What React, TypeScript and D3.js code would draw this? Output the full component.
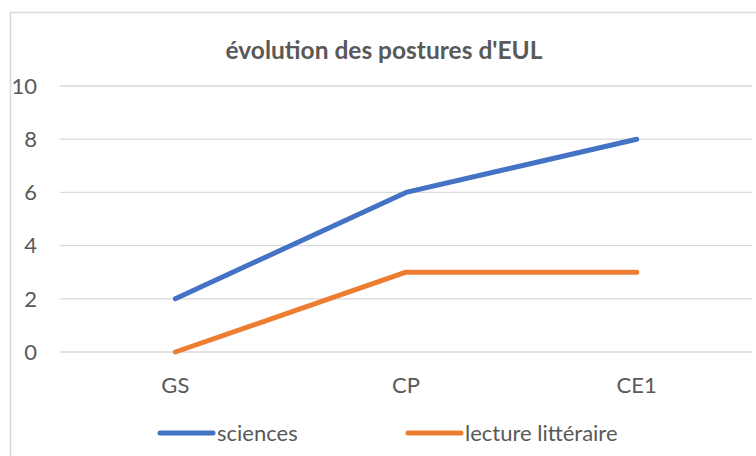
import * as d3 from "d3";
import { useEffect, useRef } from "react";

const categories = ["GS", "CP", "CE1"];
const sciences = [2, 6, 8];
const lecture = [0, 3, 3];
const yTicks = [0, 2, 4, 6, 8, 10];
const seriesNames = ["sciences", "lecture littéraire"];
const colors = ["#4472C4", "#ED7D31"];

const App = () => {
  const ref = useRef<SVGSVGElement | null>(null);

  useEffect(() => {
    const svg = d3.select(ref.current);
    svg.selectAll("*").remove();

    const width = 756,
      height = 456;
    const font = "Lato, 'Open Sans', sans-serif";
    const textColor = "#595959";

    // chart frame (only top and left edges visible in the crop)
    svg
      .append("path")
      .attr("d", `M10.5,${height} V12.5 H${width}`)
      .attr("fill", "none")
      .attr("stroke", "#d9d9d9")
      .attr("stroke-width", 1.5);

    svg
      .append("text")
      .attr("x", 384)
      .attr("y", 59)
      .attr("text-anchor", "middle")
      .attr("font-family", font)
      .attr("font-weight", "bold")
      .attr("font-size", 24.5)
      .attr("fill", textColor)
      .text("évolution des postures d'EUL");

    const x = d3.scaleBand().domain(categories).range([60, 752]);
    const y = d3.scaleLinear().domain([0, 10]).range([352, 86]);

    const grid = svg.append("g");
    grid
      .selectAll("line")
      .data(yTicks)
      .enter()
      .append("line")
      .attr("x1", 60)
      .attr("x2", 752)
      .attr("y1", (d) => y(d))
      .attr("y2", (d) => y(d))
      .attr("stroke", "#d9d9d9")
      .attr("stroke-width", 1.3);

    grid
      .selectAll("text")
      .data(yTicks)
      .enter()
      .append("text")
      .attr("x", 37)
      .attr("y", (d) => y(d))
      .attr("dy", "0.35em")
      .attr("text-anchor", "end")
      .attr("font-family", font)
      .attr("font-size", 22)
      .attr("fill", textColor)
      .text((d) => d);

    svg
      .append("g")
      .selectAll("text")
      .data(categories)
      .enter()
      .append("text")
      .attr("x", (d) => x(d)! + x.bandwidth() / 2)
      .attr("y", 393)
      .attr("text-anchor", "middle")
      .attr("font-family", font)
      .attr("font-size", 22)
      .attr("fill", textColor)
      .text((d) => d);

    const line = d3
      .line<number>()
      .x((_, i) => x(categories[i])! + x.bandwidth() / 2)
      .y((d) => y(d));

    [sciences, lecture].forEach((s, i) => {
      svg
        .append("path")
        .datum(s)
        .attr("d", line)
        .attr("fill", "none")
        .attr("stroke", colors[i])
        .attr("stroke-width", 5)
        .attr("stroke-linecap", "round")
        .attr("stroke-linejoin", "round");
    });

    const legendX = [160, 408];
    const legend = svg
      .append("g")
      .selectAll("g")
      .data(seriesNames)
      .enter()
      .append("g")
      .attr("transform", (_, i) => `translate(${legendX[i]},433)`);
    legend
      .append("line")
      .attr("x1", 0)
      .attr("x2", 53)
      .attr("stroke", (_, i) => colors[i])
      .attr("stroke-width", 5)
      .attr("stroke-linecap", "round");
    legend
      .append("text")
      .attr("x", 57)
      .attr("dy", "0.35em")
      .attr("font-family", font)
      .attr("font-size", 22)
      .attr("fill", textColor)
      .text((d) => d);
  }, []);

  return (
    <svg
      ref={ref}
      width={756}
      height={456}
      style={{ position: "absolute", left: 0, top: 0 }}
    ></svg>
  );
};

export default App;
